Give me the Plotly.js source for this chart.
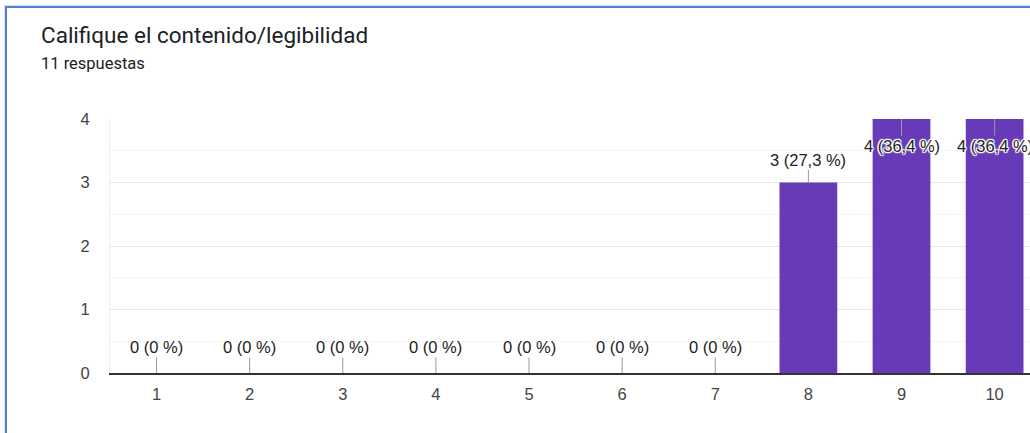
<!DOCTYPE html>
<html>
<head>
<meta charset="utf-8">
<script src="https://cdn.plot.ly/plotly-3.0.1.min.js"></script>
<style>
  html, body { margin: 0; padding: 0; background: #fff; overflow: hidden; }
  #chart { position: absolute; left: 0; top: 0; width: 1030px; height: 433px; }
  #frame {
    position: absolute; left: 5px; top: 6px; width: 1100px; height: 500px;
    border-left: 2px solid #4f80d6; border-top: 2px solid #4f80d6;
    box-shadow: -1px -1px 0 #dfe5ee;
    pointer-events: none;
  }
</style>
</head>
<body>
<div id="chart"></div>
<div id="frame"></div>
<script>
// Ratings 1–10 and how many responses each received
const ratings = [1, 2, 3, 4, 5, 6, 7, 8, 9, 10];
const counts = [0, 0, 0, 0, 0, 0, 0, 3, 4, 4];
const yTicks = [0, 1, 2, 3, 4];

const chartTitle = 'Califique el contenido/legibilidad';
const total = counts.reduce((a, b) => a + b, 0);
const subtitle = total + ' respuestas';

const purple = '#673ab7';
const axisFont = { family: 'Liberation Sans, Arial, sans-serif', size: 16.5, color: '#444' };
const halo = '1px 0 1px #fff, -1px 0 1px #fff, 0 1px 1px #fff, 0 -1px 1px #fff, 1px 1px 1px #fff, -1px -1px 1px #fff, 1px -1px 1px #fff, -1px 1px 1px #fff';

function pctLabel(c) {
  const p = Math.round(c / total * 1000) / 10;
  const s = (p % 1 === 0) ? String(p) : p.toFixed(1).replace('.', ',');
  return c + ' (' + s + ' %)';
}

const yMax = yTicks[yTicks.length - 1];

// Value labels with a short stem; bars that reach the top carry the label inside
const labels = ratings.map((r, i) => {
  const c = counts[i];
  const atTop = c >= yMax;
  return {
    x: r, y: c, xref: 'x', yref: 'y',
    text: pctLabel(c),
    showarrow: true, arrowhead: 0, arrowwidth: 1, arrowcolor: '#9a9a9a',
    ax: 0, ay: atTop ? 27 : (c === 0 ? -26 : -23),
    standoff: 0,
    font: { family: 'Liberation Sans, Arial, sans-serif', size: 16.5, color: '#222', shadow: halo },
  };
});

const trace = {
  type: 'bar',
  x: ratings,
  y: counts,
  width: 0.62,
  marker: { color: purple },
  hoverinfo: 'skip',
};

const layout = {
  width: 1030, height: 433,
  margin: { l: 110, r: 0, t: 119, b: 60, pad: 0 },
  paper_bgcolor: '#fff', plot_bgcolor: '#fff',
  showlegend: false,
  xaxis: {
    range: [0.5, 10.38],
    tickmode: 'array', tickvals: ratings, ticktext: ratings.map(String),
    showgrid: false, zeroline: false,
    showline: true, linecolor: '#333', linewidth: 1.5,
    ticks: '', ticklabelstandoff: 6,
    tickfont: axisFont,
    fixedrange: true,
  },
  yaxis: {
    range: [0, yMax],
    tickmode: 'array', tickvals: yTicks, ticktext: yTicks.map(String),
    showgrid: true, gridcolor: '#e6e6e6', gridwidth: 1,
    minor: { dtick: 0.5, showgrid: true, gridcolor: '#f3f3f3', gridwidth: 1 },
    zeroline: false,
    showline: true, linecolor: '#eeeeee', linewidth: 1,
    ticks: '', ticklabelstandoff: 16,
    tickfont: axisFont,
    fixedrange: true,
  },
  annotations: [
    {
      xref: 'paper', yref: 'paper', x: (39 - 110) / 920, y: 1 + (119 - 35) / 254,
      xanchor: 'left', yanchor: 'middle', showarrow: false,
      text: chartTitle,
      font: { family: 'Roboto, sans-serif', size: 22.5, color: '#202124' },
    },
    {
      xref: 'paper', yref: 'paper', x: (39 - 110) / 920, y: 1 + (119 - 64) / 254,
      xanchor: 'left', yanchor: 'middle', showarrow: false,
      text: subtitle,
      font: { family: 'Roboto, sans-serif', size: 16.5, color: '#202124' },
    },
  ].concat(labels),
};

Plotly.newPlot('chart', [trace], layout, { displayModeBar: false, staticPlot: true });
</script>
</body>
</html>
